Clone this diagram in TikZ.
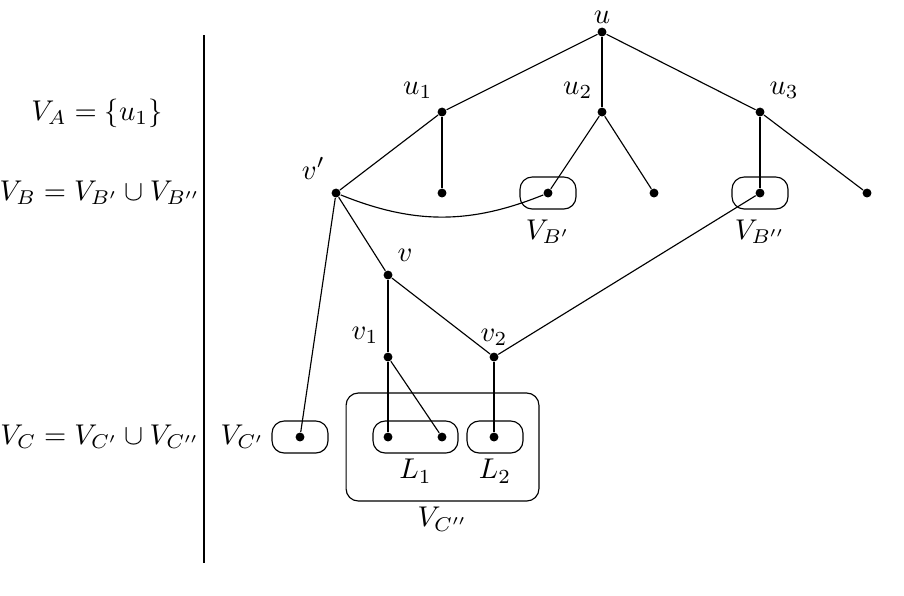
\documentclass[tikz,border=0pt]{standalone}
\usepackage{amsmath}
\usepackage{tikz}
\usetikzlibrary{positioning,fit}
\tikzset{
	dot/.style = {circle, fill = black, minimum size = 1.1mm, inner sep = 0mm, label distance = 0mm},
	group box/.style = {draw, rounded corners = 1.5mm, minimum width = 19.6pt, minimum height = 11.2pt, inner sep = 0mm},
	side label/.style = {anchor = center}
}

\begin{document}
\begin{tikzpicture}[x = 0.35pt, y = -0.35pt]
			\useasboundingbox (0, 0) rectangle (904, 595);

			% levels on the left
			\node [side label] (A) at (97, 113) {$V_A = \{u_1\}$};
			\node [side label] (B) at (100, 193) {$V_B = V_{B'} \cup V_{B''}$};
			\node [side label] (C) at (100, 437) {$V_C = V_{C'} \cup V_{C''}$};
			\coordinate (top) at (204, 35);
			\coordinate (bottom) at (204, 563);
			\draw [line width = 1pt] (top) -- (bottom);

			% tree
			\node [dot] (u) at (602, 32) [label = {[yshift = -0.8mm]above:$u$}] {};
			\node [dot] (u1) at (442, 112) [label = {[xshift = 0.5mm]above left:$u_1$}] {};
			\node [dot] (u2) at (602, 112) [label = {[xshift = 0.5mm]above left:$u_2$}] {};
			\node [dot] (u3) at (760, 112) [label = {[xshift = -0.5mm]above right:$u_3$}] {};

			\node [dot] (vp) at (336, 193) [label = {[xshift = 0.3mm]above left:$v'$}] {};
			\node [dot] (w1) at (442, 193) {};
			\node [dot] (b1) at (548, 193) {};
			\node [dot] (w2) at (654, 193) {};
			\node [dot] (b2) at (760, 193) {};
			\node [dot] (w3) at (867, 193) {};

			\node [dot] (v) at (388, 275) [label = {[xshift = -0.5mm]above right:$v$}] {};
			\node [dot] (v1) at (388, 357) [label = {[xshift = 0.5mm]above left:$v_1$}] {};
			\node [dot] (v2) at (494, 357) [label = {[yshift = -0.5mm]above:$v_2$}] {};

			\node [dot] (c0) at (300, 437) {};
			\node [dot] (c1) at (388, 437) {};
			\node [dot] (c2) at (442, 437) {};
			\node [dot] (c3) at (494, 437) {};

			% groups
			\node [group box] (VBp) at (b1) {};
			\node [group box] (VBpp) at (b2) {};
			\node [group box] (VCp) at (c0) {};
			\node [group box, minimum width = 29.75pt] (L1) at (415.5, 437) {};
			\node [group box] (L2) at (495, 437) {};
			\node [group box, minimum width = 67.5pt, minimum height = 37.8pt] (VCpp) at (442.5, 447) {};

			\node [below = 0pt of VBp] {$V_{B'}$};
			\node [below = 0pt of VBpp] {$V_{B''}$};
			\node [left = -1pt of VCp] {$V_{C'}$};
			\node [below = -1.5pt of L1] {$L_1$};
			\node [below = -1.5pt of L2] {$L_2$};
			\node [below = -1.5pt of VCpp] {$V_{C''}$};

			% edges
			\foreach\x in {u1,u2,u3}{
				\draw (u) -- (\x);
			}
			\draw (u1) -- (vp);
			\draw (u1) -- (w1);
			\draw (u2) -- (b1);
			\draw (u2) -- (w2);
			\draw (u3) -- (b2);
			\draw (u3) -- (w3);

			\draw (vp) to [bend right = 22] (b1);
			\draw (vp) -- (c0);
			\draw (vp) -- (v);
			\draw (v) -- (v1);
			\draw (v) -- (v2);
			\draw (v2) -- (b2);
			\draw (v1) -- (c1);
			\draw (v1) -- (c2);
			\draw (v2) -- (c3);
		\end{tikzpicture}
\end{document}
